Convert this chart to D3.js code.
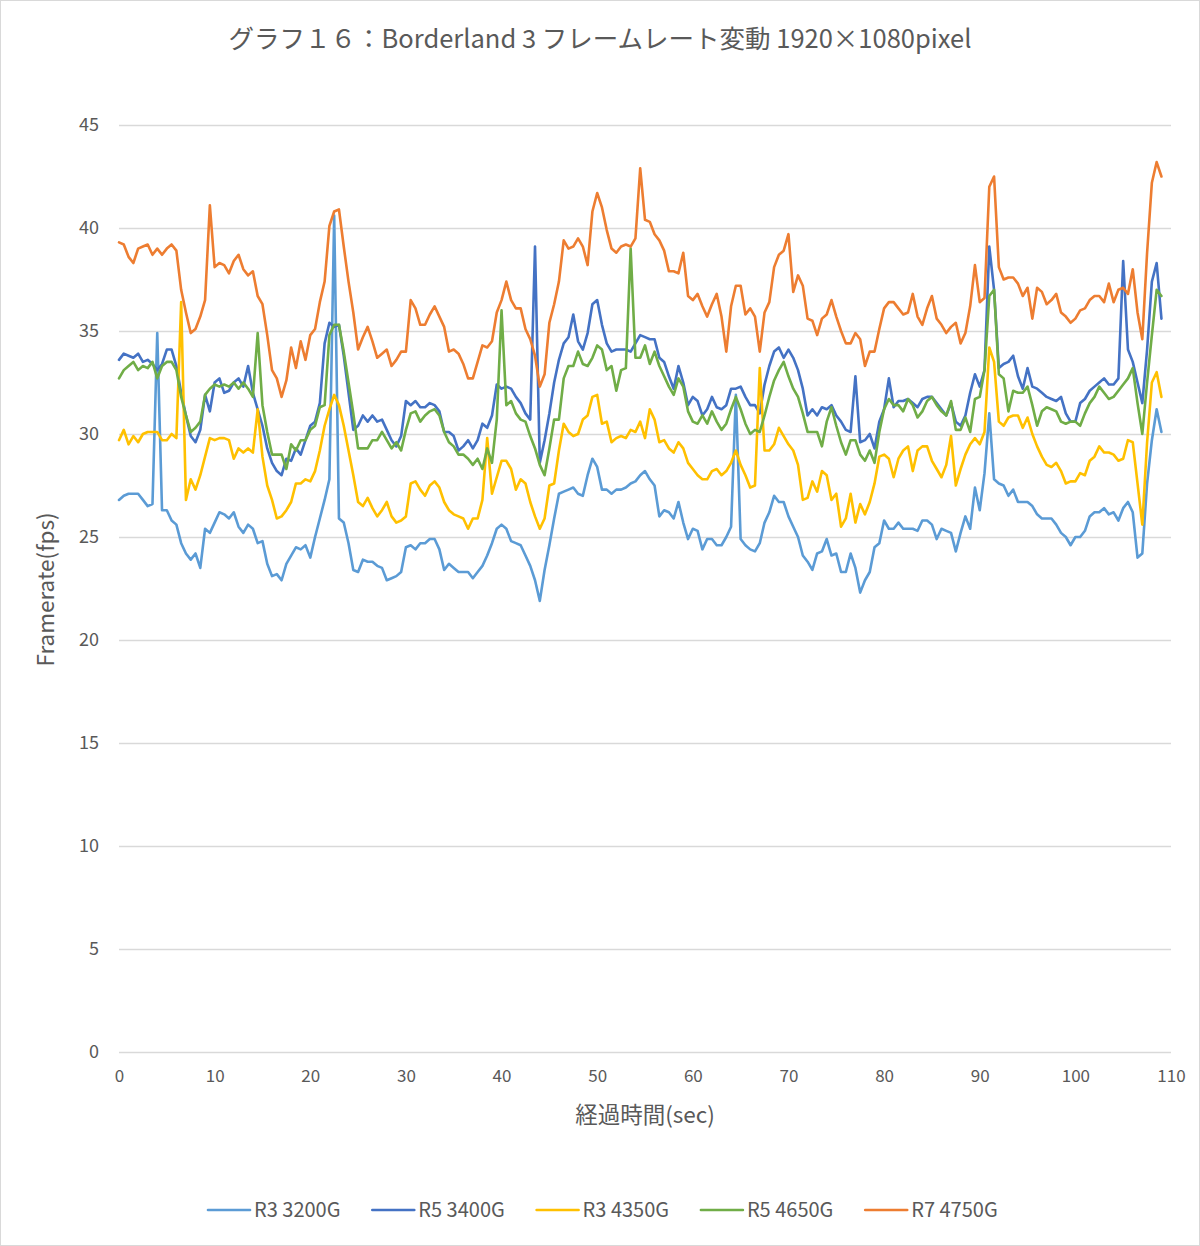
<!DOCTYPE html>
<html>
<head>
<meta charset="utf-8">
<script src="https://cdn.jsdelivr.net/npm/d3@7"></script>
<style>
  html, body { margin: 0; padding: 0; background: #ffffff; }
  svg { display: block; }
  text { font-family: "Noto Sans CJK JP", "Noto Sans", sans-serif; fill: #595959; }
</style>
</head>
<body>
<svg id="chart" width="1200" height="1246"></svg>
<script>
// ---------- data ----------
const titleText = "グラフ１６：Borderland 3 フレームレート変動 1920×1080pixel";
const xAxisTitle = "経過時間(sec)";
const yAxisTitle = "Framerate(fps)";
const seriesNames = ["R3 3200G", "R5 3400G", "R3 4350G", "R5 4650G", "R7 4750G"];
const seriesColors = ["#5B9BD5", "#4472C4", "#FFC000", "#70AD47", "#ED7D31"];
const xTicks = [0, 10, 20, 30, 40, 50, 60, 70, 80, 90, 100, 110];
const yTicks = [0, 5, 10, 15, 20, 25, 30, 35, 40, 45];
const timeStep = 0.5; // seconds between samples

const r3_3200g = [
  26.8,27.0,27.1,27.1,27.1,26.8,26.5,26.6,34.9,26.3,26.3,25.8,25.6,24.7,24.2,23.9,24.2,23.5,25.4,25.2,25.7,26.2,26.1,25.9,26.2,25.5,25.2,25.6,25.4,24.7,24.8,23.7,23.1,23.2,22.9,23.7,
  24.1,24.5,24.4,24.6,24.0,25.0,25.9,26.8,27.8,40.6,25.9,25.7,24.7,23.4,23.3,23.9,23.8,23.8,23.6,23.5,22.9,23.0,23.1,23.3,24.5,24.6,24.4,24.7,24.7,24.9,24.9,24.4,23.4,23.7,23.5,23.3,
  23.3,23.3,23.0,23.3,23.6,24.1,24.7,25.4,25.6,25.4,24.8,24.7,24.6,24.1,23.6,22.9,21.9,23.4,24.6,25.9,27.1,27.2,27.3,27.4,27.1,27.0,28.0,28.8,28.4,27.3,27.3,27.1,27.3,27.3,27.4,
  27.6,27.7,28.0,28.2,27.8,27.5,26.0,26.3,26.2,25.9,26.7,25.7,24.9,25.4,25.3,24.4,24.9,24.9,24.6,24.6,25.0,25.5,31.9,24.9,24.6,24.4,24.3,24.7,25.7,26.2,27.0,26.7,26.7,26.0,25.5,25.0,
  24.1,23.8,23.4,24.2,24.3,24.9,24.1,24.2,23.3,23.3,24.2,23.5,22.3,22.9,23.3,24.5,24.7,25.8,25.4,25.4,25.7,25.4,25.4,25.4,25.3,25.8,25.8,25.6,24.9,25.4,25.3,25.2,24.3,25.2,26.0,25.4,
  27.4,26.3,28.1,31.0,27.8,27.6,27.5,27.0,27.3,26.7,26.7,26.7,26.5,26.1,25.9,25.9,25.9,25.6,25.2,25.0,24.6,25.0,25.0,25.3,26.0,26.2,26.2,26.4,26.1,26.2,25.8,26.4,26.7,26.2,24.0,24.2,27.6,29.7,31.2,30.1
];
const r5_3400g = [
  33.6,33.9,33.8,33.7,33.9,33.5,33.6,33.4,33.1,33.4,34.1,34.1,33.3,32.0,30.9,29.9,29.6,30.2,31.9,31.1,32.5,32.7,32.0,32.1,32.5,32.7,32.3,33.3,32.0,31.2,30.4,29.3,28.6,28.2,28.0,28.8,
  28.7,29.3,29.0,29.7,30.4,30.6,31.5,34.4,35.4,35.2,35.3,33.8,32.0,30.2,30.4,30.9,30.6,30.9,30.6,30.7,30.2,29.7,29.4,29.9,31.6,31.4,31.6,31.3,31.3,31.5,31.4,31.1,30.1,30.1,29.9,29.2,
  29.4,29.7,29.3,29.7,30.5,30.3,30.9,32.4,32.2,32.3,32.2,31.8,31.5,31.0,30.7,39.1,28.6,29.7,31.0,32.5,33.6,34.4,34.7,35.8,34.5,34.1,34.9,36.3,36.5,35.3,34.4,34.0,34.1,34.1,34.1,
  34.0,34.4,34.8,34.7,34.6,34.6,33.7,33.5,32.8,32.2,33.3,32.5,31.4,31.8,31.6,30.9,31.2,31.8,31.3,31.2,31.4,32.2,32.2,32.3,31.8,31.4,31.4,31.0,32.4,33.3,34.0,34.2,33.7,34.1,33.7,33.1,
  32.2,30.9,31.2,30.9,31.3,31.2,31.4,30.9,30.6,30.2,30.1,32.8,29.6,29.7,30.0,29.3,30.6,31.2,32.7,31.3,31.6,31.6,31.7,31.5,31.3,31.7,31.8,31.8,31.5,31.2,30.9,31.5,30.6,30.4,30.9,32.0,
  32.9,32.3,33.1,39.1,37.0,33.2,33.4,33.5,33.8,32.8,32.2,33.2,32.3,32.2,32.0,31.8,31.7,31.6,31.8,31.0,30.6,30.6,31.5,31.7,32.1,32.3,32.5,32.7,32.4,32.4,32.7,38.4,34.1,33.5,32.5,31.5,34.1,37.4,38.3,35.6
];
const r3_4350g = [
  29.7,30.2,29.5,29.9,29.6,30.0,30.1,30.1,30.1,29.7,29.7,30.0,29.8,36.4,26.8,27.8,27.3,28.0,28.9,29.8,29.7,29.8,29.8,29.7,28.8,29.3,29.1,29.3,29.1,31.2,28.9,27.5,26.8,25.9,26.0,26.3,
  26.7,27.6,27.6,27.8,27.7,28.2,29.2,30.4,31.2,31.9,31.4,30.4,29.2,28.0,26.7,26.5,26.9,26.4,26.0,26.3,26.7,26.0,25.7,25.8,26.0,27.6,27.7,27.3,27.0,27.5,27.7,27.4,26.7,26.3,26.1,26.0,
  25.9,25.4,25.9,25.9,26.8,29.8,27.1,27.9,28.7,28.7,28.3,27.3,27.8,27.6,26.7,26.0,25.4,25.9,27.5,27.6,29.2,30.5,30.1,29.9,30.0,30.7,30.9,31.8,31.9,30.5,30.6,29.6,29.8,29.9,29.8,
  30.2,30.1,30.6,29.8,31.2,30.7,29.6,29.7,29.3,29.1,29.6,29.3,28.6,28.3,28.0,27.8,27.8,28.2,28.3,28.0,28.2,28.6,29.2,28.5,28.0,27.4,27.5,33.2,29.2,29.2,29.5,30.3,29.9,29.5,29.2,28.5,
  26.8,26.9,27.7,27.2,28.2,28.0,26.8,27.1,25.5,25.9,27.1,25.7,26.6,26.1,26.7,27.6,28.9,29.0,28.8,27.9,28.8,29.2,29.4,28.2,29.2,29.4,29.4,28.7,28.3,27.9,28.5,29.9,27.5,28.3,29.0,29.5,
  29.8,29.5,30.1,34.2,33.5,30.6,30.4,30.8,30.9,30.9,30.3,30.8,30.0,29.4,28.9,28.5,28.4,28.6,28.2,27.6,27.7,27.7,28.1,28.0,28.7,28.9,29.4,29.1,29.1,29.0,28.7,28.8,29.7,29.6,27.6,25.6,29.6,32.5,33.0,31.8
];
const r5_4650g = [
  32.7,33.1,33.3,33.5,33.1,33.3,33.2,33.5,32.7,33.3,33.5,33.5,33.1,31.8,30.9,30.1,30.3,30.6,31.9,32.2,32.4,32.3,32.4,32.3,32.5,32.2,32.5,32.2,31.8,34.9,31.4,30.1,29.0,29.0,29.0,28.3,
  29.5,29.2,29.7,29.7,30.2,30.4,31.3,31.4,34.8,35.3,35.3,34.0,32.5,31.0,29.3,29.3,29.3,29.7,29.7,30.1,29.7,29.3,29.6,29.2,30.2,31.0,31.1,30.6,30.9,31.1,31.2,30.9,30.1,29.6,29.4,29.0,
  29.0,28.8,28.5,28.8,28.3,29.3,28.6,30.7,36.0,31.4,31.6,31.0,30.7,30.6,29.9,29.3,28.5,28.0,29.3,30.7,30.7,32.7,33.3,33.3,34.0,33.4,33.3,33.7,34.3,34.1,33.1,33.3,32.1,33.1,33.2,
  39.0,33.7,33.7,34.3,33.4,34.0,33.3,32.8,32.3,31.9,32.7,32.3,31.1,30.6,30.5,30.9,30.5,31.1,30.6,30.2,30.5,31.2,31.8,31.2,30.5,30.0,30.2,30.1,30.9,31.8,32.6,33.1,33.5,32.8,32.2,31.8,
  31.0,30.1,30.1,30.1,29.4,30.6,31.3,30.4,29.6,29.0,29.7,29.7,29.0,28.7,29.2,28.6,30.1,31.2,31.7,31.4,31.4,31.1,31.7,31.4,30.8,31.1,31.6,31.8,31.4,31.1,30.9,31.6,30.2,30.2,30.8,30.1,
  31.7,31.8,33.1,36.7,37.0,32.9,32.7,31.1,32.1,32.0,32.0,32.3,31.4,30.4,31.1,31.3,31.2,31.1,30.6,30.5,30.6,30.6,30.4,31.0,31.5,31.8,32.3,32.0,31.7,31.8,32.1,32.4,32.7,33.2,31.5,30.0,32.5,34.8,37.0,36.7
];
const r7_4750g = [
  39.3,39.2,38.6,38.3,39.0,39.1,39.2,38.7,39.0,38.7,39.0,39.2,38.9,37.0,35.9,34.9,35.1,35.7,36.5,41.1,38.1,38.3,38.2,37.8,38.4,38.7,38.0,37.7,37.9,36.7,36.3,34.8,33.1,32.7,31.8,32.6,
  34.2,33.2,34.5,33.6,34.8,35.1,36.4,37.4,40.1,40.8,40.9,39.1,37.4,35.9,34.1,34.7,35.2,34.5,33.7,33.9,34.1,33.3,33.6,34.0,34.0,36.5,36.1,35.3,35.3,35.8,36.2,35.7,35.2,34.0,34.1,33.9,
  33.4,32.7,32.7,33.5,34.3,34.2,34.5,35.9,36.5,37.4,36.5,36.1,36.1,35.1,34.6,33.8,32.3,32.9,35.4,36.3,37.4,39.4,39.0,39.1,39.5,39.1,38.2,40.8,41.7,41.0,39.9,39.0,38.8,39.1,39.2,
  39.1,39.5,42.9,40.4,40.3,39.7,39.4,38.9,37.9,37.9,37.8,38.8,36.7,36.5,36.8,36.2,35.7,36.3,36.8,35.7,34.0,36.2,37.2,37.2,35.8,36.1,35.7,34.0,35.9,36.4,38.1,38.7,38.9,39.7,36.9,37.7,
  37.2,35.6,35.5,34.8,35.6,35.8,36.5,35.7,35.0,34.4,34.4,34.9,34.6,33.3,34.0,34.0,35.1,36.1,36.4,36.4,36.1,35.8,35.9,36.8,35.7,35.3,36.1,36.7,35.6,35.3,34.9,35.2,35.4,34.4,34.9,36.2,
  38.2,36.4,36.6,42.0,42.5,38.1,37.5,37.6,37.6,37.3,36.7,37.1,35.6,37.1,36.9,36.3,36.5,36.8,35.9,35.7,35.4,35.6,36.0,36.1,36.5,36.7,36.7,36.4,37.3,36.4,37.0,37.1,36.8,38.0,35.9,34.6,38.8,42.2,43.2,42.5
];
const seriesValues = [r3_3200g, r5_3400g, r3_4350g, r5_4650g, r7_4750g];

// ---------- drawing ----------
const W = 1200, H = 1246;
const svg = d3.select("#chart");

svg.append("rect")
  .attr("x", 0.5).attr("y", 0.5).attr("width", W - 1).attr("height", H - 1)
  .attr("fill", "#ffffff").attr("stroke", "#d9d9d9").attr("stroke-width", 1);

const plot = { left: 119, right: 1171, top: 125, bottom: 1052 };
const x = d3.scaleLinear().domain([0, 110]).range([plot.left, plot.right]);
const y = d3.scaleLinear().domain([0, 45]).range([plot.bottom, plot.top]);

// gridlines + y axis labels
const yAxis = d3.axisLeft(y).tickValues(yTicks).tickSize(-(plot.right - plot.left)).tickPadding(20).tickFormat(d3.format("d"));
const gy = svg.append("g").attr("transform", `translate(${plot.left},0)`).call(yAxis);
gy.select(".domain").remove();
gy.selectAll(".tick line").attr("stroke", "#d9d9d9").attr("stroke-width", 1.5);
gy.selectAll(".tick text").attr("font-size", 18).attr("fill", "#595959")
  .style("font-family", '"Noto Sans CJK JP", sans-serif');

// x axis labels
const xAxis = d3.axisBottom(x).tickValues(xTicks).tickSize(0).tickPadding(18).tickFormat(d3.format("d"));
const gx = svg.append("g").attr("transform", `translate(0,${plot.bottom})`).call(xAxis);
gx.select(".domain").remove();
gx.selectAll(".tick text").attr("font-size", 17).attr("fill", "#595959")
  .style("font-family", '"Noto Sans CJK JP", sans-serif');

// lines
const line = d3.line()
  .x((d, i) => x(i * timeStep))
  .y(d => y(d));

seriesValues.forEach((vals, k) => {
  svg.append("path")
    .datum(vals)
    .attr("fill", "none")
    .attr("stroke", seriesColors[k])
    .attr("stroke-width", 2.6)
    .attr("stroke-linejoin", "round")
    .attr("stroke-linecap", "round")
    .attr("d", line);
});

// title
svg.append("text")
  .attr("x", 600).attr("y", 48)
  .attr("text-anchor", "middle")
  .attr("font-size", 25.5)
  .attr("fill", "#595959")
  .text(titleText);

// axis titles
svg.append("text")
  .attr("x", (plot.left + plot.right) / 2).attr("y", 1123)
  .attr("text-anchor", "middle")
  .attr("font-size", 22.5)
  .text(xAxisTitle);

svg.append("text")
  .attr("transform", `translate(54,${(plot.top + plot.bottom) / 2 + 1}) rotate(-90)`)
  .attr("text-anchor", "middle")
  .attr("font-size", 22.5)
  .text(yAxisTitle);

// legend
const legendX0 = 208, legendStep = 164.3, legendY = 1210;
const lg = svg.append("g");
seriesNames.forEach((name, k) => {
  const g = lg.append("g").attr("transform", `translate(${legendX0 + k * legendStep},${legendY})`);
  g.append("line").attr("x1", 0).attr("x2", 42).attr("y1", 0).attr("y2", 0)
    .attr("stroke", seriesColors[k]).attr("stroke-width", 2.6).attr("stroke-linecap", "round");
  g.append("text").attr("x", 46).attr("y", 7).attr("font-size", 20).text(name);
});
</script>
</body>
</html>
